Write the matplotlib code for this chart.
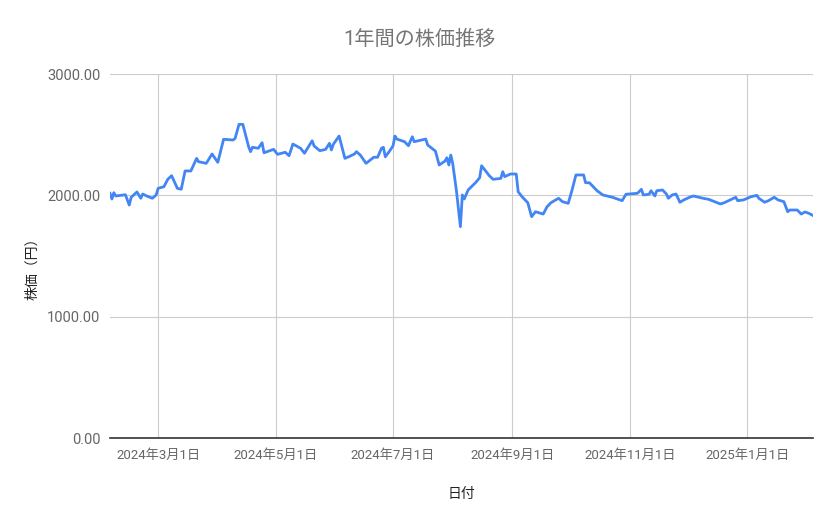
#!/usr/bin/env python3
"""
1年間の株価推移 - line chart in the style of a spreadsheet chart
"""

import numpy as np
import pandas as pd
import matplotlib
matplotlib.use('Agg')
import matplotlib.pyplot as plt
import matplotlib.dates as mdates
from matplotlib.ticker import FixedLocator, FuncFormatter

plt.rcParams['font.family'] = ['Roboto', 'Noto Sans CJK JP', 'DejaVu Sans']

# Values
dates = [
    '2024-02-05', '2024-02-06', '2024-02-07', '2024-02-08', '2024-02-13', '2024-02-15',
    '2024-02-16', '2024-02-19', '2024-02-21', '2024-02-22', '2024-02-24', '2024-02-27',
    '2024-02-29', '2024-03-01', '2024-03-04', '2024-03-06', '2024-03-08', '2024-03-11',
    '2024-03-13', '2024-03-15', '2024-03-18', '2024-03-20', '2024-03-21', '2024-03-22',
    '2024-03-26', '2024-03-29', '2024-04-01', '2024-04-04', '2024-04-09', '2024-04-10',
    '2024-04-12', '2024-04-14', '2024-04-17', '2024-04-18', '2024-04-19', '2024-04-22',
    '2024-04-24', '2024-04-25', '2024-04-30', '2024-05-02', '2024-05-06', '2024-05-08',
    '2024-05-10', '2024-05-14', '2024-05-16', '2024-05-20', '2024-05-21', '2024-05-24',
    '2024-05-27', '2024-05-29', '2024-05-30', '2024-05-31', '2024-06-03', '2024-06-06',
    '2024-06-08', '2024-06-11', '2024-06-12', '2024-06-14', '2024-06-17', '2024-06-21',
    '2024-06-23', '2024-06-25', '2024-06-26', '2024-06-27', '2024-06-29', '2024-07-01',
    '2024-07-02', '2024-07-03', '2024-07-07', '2024-07-09', '2024-07-11', '2024-07-12',
    '2024-07-18', '2024-07-19', '2024-07-23', '2024-07-25', '2024-07-28', '2024-07-29',
    '2024-07-30', '2024-07-31', '2024-08-01', '2024-08-03', '2024-08-05', '2024-08-06',
    '2024-08-07', '2024-08-09', '2024-08-13', '2024-08-15', '2024-08-16', '2024-08-20',
    '2024-08-22', '2024-08-26', '2024-08-27', '2024-08-28', '2024-08-31', '2024-09-03',
    '2024-09-04', '2024-09-06', '2024-09-09', '2024-09-11', '2024-09-13', '2024-09-17',
    '2024-09-19', '2024-09-21', '2024-09-25', '2024-09-27', '2024-09-30', '2024-10-02',
    '2024-10-04', '2024-10-08', '2024-10-09', '2024-10-11', '2024-10-15', '2024-10-18',
    '2024-10-23', '2024-10-28', '2024-10-30', '2024-11-05', '2024-11-07', '2024-11-08',
    '2024-11-11', '2024-11-12', '2024-11-14', '2024-11-15', '2024-11-18', '2024-11-20',
    '2024-11-21', '2024-11-23', '2024-11-25', '2024-11-27', '2024-11-29', '2024-12-02',
    '2024-12-04', '2024-12-09', '2024-12-12', '2024-12-15', '2024-12-18', '2024-12-20',
    '2024-12-23', '2024-12-26', '2024-12-27', '2024-12-30', '2025-01-03', '2025-01-06',
    '2025-01-07', '2025-01-10', '2025-01-12', '2025-01-15', '2025-01-17', '2025-01-20',
    '2025-01-22', '2025-01-23', '2025-01-27', '2025-01-29', '2025-01-31', '2025-02-02',
    '2025-02-04',
]

prices = [
    2017, 1970, 2022, 1995, 2005, 1920,
    1984, 2028, 1976, 2011, 1995, 1976,
    2003, 2058, 2071, 2132, 2162, 2058,
    2050, 2201, 2201, 2269, 2305, 2277,
    2264, 2341, 2272, 2462, 2456, 2470,
    2585, 2585, 2401, 2360, 2396, 2388,
    2434, 2351, 2379, 2338, 2355, 2327,
    2423, 2388, 2347, 2450, 2407, 2368,
    2379, 2429, 2374, 2421, 2489, 2305,
    2318, 2341, 2360, 2332, 2264, 2314,
    2314, 2388, 2396, 2318, 2360, 2407,
    2489, 2464, 2442, 2409, 2483, 2442,
    2464, 2415, 2365, 2250, 2283, 2310,
    2250, 2332, 2264, 2030, 1742, 2003,
    1970, 2044, 2107, 2145, 2244, 2162,
    2132, 2140, 2195, 2154, 2176, 2176,
    2030, 1989, 1939, 1824, 1865, 1846,
    1906, 1939, 1976, 1948, 1934, 2044,
    2168, 2168, 2104, 2104, 2038, 2003,
    1984, 1956, 2009, 2017, 2050, 2003,
    2009, 2038, 1995, 2038, 2044, 2011,
    1976, 2003, 2011, 1943, 1962, 1984,
    1995, 1976, 1967, 1948, 1929, 1939,
    1962, 1984, 1956, 1962, 1989, 2000,
    1976, 1943, 1956, 1984, 1962, 1948,
    1865, 1879, 1879, 1846, 1863, 1852,
    1835,
]

x_ticks = ['2024-03-01', '2024-05-01', '2024-07-01', '2024-09-01', '2024-11-01', '2025-01-01']
y_ticks = [0, 1000, 2000, 3000]

title = '1年間の株価推移'
x_title = '日付'
y_title = '株価（円）'

df = pd.DataFrame({'date': pd.to_datetime(dates), 'price': prices})

fig = plt.figure(figsize=(8.39, 5.19), dpi=100)
ax = fig.add_axes([0.1311, 0.156, 0.8376, 0.7014])

ax.plot(df['date'], df['price'], color='#4285F4', linewidth=2, solid_joinstyle='round')

ax.set_xlim(pd.Timestamp('2024-02-05'), pd.Timestamp('2025-02-04'))
ax.set_ylim(0, 3000)

tick_dates = pd.to_datetime(x_ticks)
ax.xaxis.set_major_locator(FixedLocator(mdates.date2num(tick_dates)))
ax.set_xticklabels([f'{d.year}年{d.month}月{d.day}日' for d in tick_dates])
ax.yaxis.set_major_locator(FixedLocator(y_ticks))
ax.yaxis.set_major_formatter(FuncFormatter(lambda v, p: f'{v:.2f}'))

ax.grid(True, color='#cccccc', linewidth=0.8)
ax.set_axisbelow(True)
for side in ['top', 'right', 'left']:
    ax.spines[side].set_visible(False)
ax.spines['bottom'].set_color('#333333')
ax.spines['bottom'].set_linewidth(1.2)
ax.spines['bottom'].set_zorder(3)

ax.tick_params(axis='x', length=0, labelsize=9.5, labelcolor='#666666', pad=8)
ax.tick_params(axis='y', length=0, labelsize=10.5, labelcolor='#666666', pad=7)

ax.set_xlabel(x_title, fontsize=10, color='#222222')
ax.xaxis.set_label_coords(0.5, -0.135)
ax.set_ylabel(y_title, fontsize=10, color='#222222', va='center')
ax.yaxis.set_label_coords(-0.11, 0.475)

fig.text(0.5, 0.925, title, ha='center', va='center', fontsize=14.5, color='#757575')

fig.savefig('out.png', dpi=100)
plt.close(fig)
